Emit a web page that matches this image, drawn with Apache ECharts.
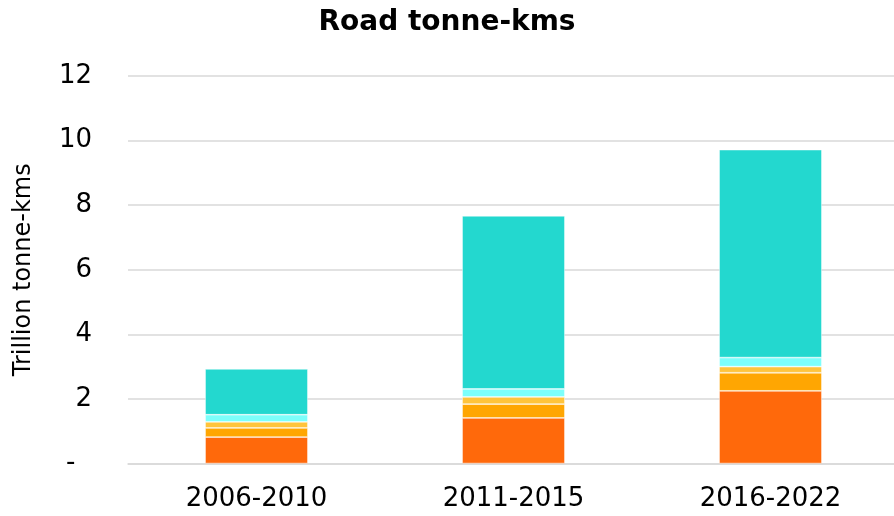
<!DOCTYPE html>
<html>
<head>
<meta charset="utf-8">
<script src="https://cdn.jsdelivr.net/npm/echarts@6/dist/echarts.min.js"></script>
<style>html,body{margin:0;padding:0;background:#fff;}#c{width:894px;height:516px;}</style>
</head>
<body>
<div id="c"></div>
<script>
const categories = ['2006-2010', '2011-2015', '2016-2022'];
const series1 = [0.82, 1.41, 2.25];
const series2 = [0.28, 0.43, 0.56];
const series3 = [0.19, 0.22, 0.19];
const series4 = [0.22, 0.25, 0.28];
const series5 = [1.42, 5.36, 6.44];
const seriesNames = ['Series 1', 'Series 2', 'Series 3', 'Series 4', 'Series 5'];
const colors = ['#FF690B', '#FFA602', '#FFC43C', '#7DFFFB', '#23D8CF'];

const chart = echarts.init(document.getElementById('c'), null, {renderer: 'canvas'});
const dataSets = [series1, series2, series3, series4, series5];
chart.setOption({
  animation: false,
  title: {
    text: 'Road tonne-kms', left: 'center', top: 4,
    textStyle: {fontFamily: 'DejaVu Sans', fontWeight: 'bold', fontSize: 28, color: '#000'}
  },
  grid: {left: 128, right: -5, top: 76, bottom: 52.5, containLabel: false, outerBoundsMode: 'none'},
  xAxis: {
    type: 'category', data: categories,
    axisLine: {show: true, lineStyle: {color: '#D9D9D9', width: 1.5}},
    axisTick: {show: false},
    axisLabel: {fontFamily: 'DejaVu Sans', fontSize: 26, color: '#000', margin: 23}
  },
  yAxis: {
    type: 'value', min: 0, max: 12, interval: 2,
    name: 'Trillion tonne-kms', nameLocation: 'middle', nameGap: 92,
    nameTextStyle: {fontFamily: 'DejaVu Sans', fontSize: 24, color: '#000'},
    axisLine: {show: false}, axisTick: {show: false},
    splitLine: {lineStyle: {color: '#D9D9D9', width: 1.5}},
    axisLabel: {
      fontFamily: 'DejaVu Sans', fontSize: 26, color: '#000', margin: 36,
      formatter: v => v === 0 ? '-  ' : String(v)
    }
  },
  series: dataSets.map((d, i) => ({
    name: seriesNames[i], type: 'bar', stack: 'total', data: d,
    barWidth: '40%',
    itemStyle: {color: colors[i], borderColor: 'rgba(255,255,255,0.6)', borderWidth: 0.75}
  }))
});
</script>
</body>
</html>
